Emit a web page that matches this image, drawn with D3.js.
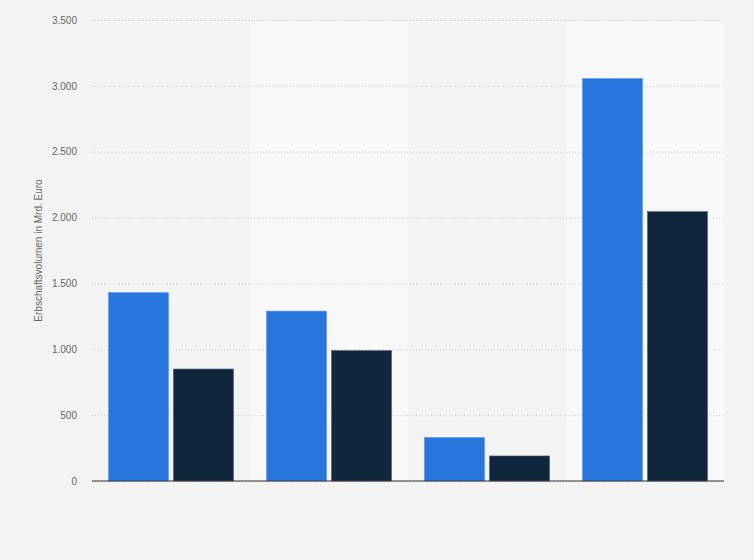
<!DOCTYPE html>
<html lang="de">
  <head>
    <meta charset="UTF-8" />
    <title>Erbschaftsvolumen</title>
    <style>
      body { margin: 0; background: #f3f3f3; }
      svg { display: block; font-family: "Liberation Sans", Arial, sans-serif; }
    </style>
  </head>
  <body>
    <svg id="chart" width="754" height="560"></svg>
    <script src="https://d3js.org/d3.v7.min.js"></script>
    <script>
      // Werte (Mrd. Euro)
      const categories = ["A", "B", "C", "D"];
      const seriesNames = ["Reihe 1", "Reihe 2"];
      const series1 = [1430, 1290, 330, 3055];
      const series2 = [850, 990, 190, 2045];
      const yTicks = [0, 500, 1000, 1500, 2000, 2500, 3000, 3500];
      const colors = ["#2876dd", "#10263d"];

      const W = 754, H = 560;
      const m = { top: 20, right: 30, bottom: 79, left: 92 };
      const svg = d3.select("#chart");

      svg.append("rect").attr("width", W).attr("height", H).attr("fill", "#f3f3f3");

      const x = d3.scaleBand().domain(categories).range([m.left, W - m.right]);
      const xInner = d3.scaleBand().domain(seriesNames)
        .range([0, x.bandwidth()]).paddingInner(0.077).paddingOuter(0.254);
      const y = d3.scaleLinear().domain([0, 3500]).range([H - m.bottom, m.top]);

      // alternating column bands
      svg.append("g").selectAll("rect")
        .data(categories.filter((c, i) => i % 2 === 1))
        .enter().append("rect")
        .attr("x", (c) => x(c))
        .attr("y", m.top)
        .attr("width", x.bandwidth())
        .attr("height", y(0) - m.top)
        .attr("fill", "#f8f8f8");

      // grid + tick labels
      const fmt = (v) => d3.format(",")(v).replace(/,/g, ".");
      const yAxis = svg.append("g")
        .attr("transform", `translate(${m.left},0)`)
        .call(d3.axisLeft(y).tickValues(yTicks).tickFormat(fmt)
          .tickSize(-(W - m.left - m.right)).tickPadding(15));
      yAxis.select(".domain").remove();
      yAxis.selectAll(".tick line")
        .attr("stroke", "#c9c9c9")
        .attr("stroke-dasharray", "1,2");
      yAxis.selectAll(".tick text")
        .attr("fill", "#666")
        .style("font-size", "10px");

      // bars
      const data = categories.map((c, i) => ({ c, vals: [series1[i], series2[i]] }));
      const groups = svg.append("g").selectAll("g")
        .data(data)
        .enter().append("g")
        .attr("transform", (d) => `translate(${x(d.c)},0)`);
      groups.selectAll("rect")
        .data((d) => d.vals.map((v, j) => ({ v, s: seriesNames[j], j })))
        .enter().append("rect")
        .attr("x", (d) => xInner(d.s))
        .attr("width", xInner.bandwidth())
        .attr("y", (d) => y(d.v))
        .attr("height", (d) => y(0) - y(d.v))
        .attr("fill", (d) => colors[d.j])
        .attr("stroke", (d) => (d.j === 0 ? "#5a95e6" : "#4a5a6c"))
        .attr("stroke-width", 0.6);

      // baseline
      svg.append("line")
        .attr("x1", m.left).attr("x2", W - m.right)
        .attr("y1", y(0)).attr("y2", y(0))
        .attr("stroke", "#333").attr("stroke-width", 1.2);

      // y axis title
      svg.append("text")
        .attr("transform", `translate(42,${(m.top + y(0)) / 2}) rotate(-90)`)
        .attr("text-anchor", "middle")
        .attr("fill", "#666")
        .style("font-size", "10px")
        .text("Erbschaftsvolumen in Mrd. Euro");
    </script>
  </body>
</html>
